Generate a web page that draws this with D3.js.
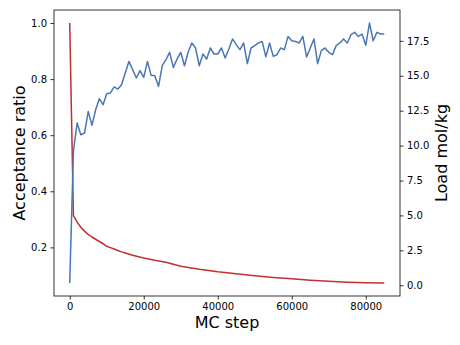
<!DOCTYPE html>
<html>
<head>
<meta charset="utf-8">
<script src="https://cdn.jsdelivr.net/npm/d3@7"></script>
<style>
  html, body { margin: 0; padding: 0; background: #fff; }
  svg { display: block; font-family: "DejaVu Sans", sans-serif; }
</style>
</head>
<body>
<svg id="chart" width="460" height="345"></svg>
<script>
// Load (mol/kg) sampled every 1000 MC steps
const loadSteps = d3.range(0, 86000, 1000);
const loadValues = [
  0.16, 9.6, 11.62, 10.78, 10.90, 12.45, 11.45, 12.57, 13.36, 12.93,
  13.72, 13.77, 14.20, 14.05, 14.36, 15.20, 16.03, 15.44, 14.84, 15.37,
  14.89, 16.03, 15.03, 15.01, 14.24, 15.72, 16.15, 16.68, 15.60, 16.20,
  16.68, 15.72, 16.68, 17.35, 16.99, 15.72, 16.56, 16.20, 16.99, 16.56,
  16.56, 16.99, 16.28, 16.92, 17.64, 17.23, 16.87, 17.35, 15.87, 16.99,
  17.16, 17.35, 17.46, 16.35, 17.35, 16.39, 16.51, 16.99, 16.87, 17.82,
  17.51, 17.46, 17.35, 17.82, 16.35, 16.99, 17.64, 15.87, 16.82, 16.99,
  16.68, 16.51, 17.16, 17.35, 17.64, 17.35, 17.94, 18.11, 17.82, 17.99,
  17.18, 18.78, 17.51, 18.11, 17.99, 17.99
];

// Acceptance ratio of the MC moves
const ratioSteps = [
  0, 1000, 2000, 3000, 4000, 5000, 6000, 7000, 8000, 9000, 10000,
  11000, 12000, 13000, 14000, 15000, 17000, 20000, 23000, 26000, 28000,
  30000, 35000, 40000, 45000, 50000, 55000, 60000, 65000, 70000, 75000,
  80000, 85000
];
const ratioValues = [
  1.0, 0.313, 0.290, 0.272, 0.258, 0.246, 0.237, 0.229, 0.221, 0.213, 0.204,
  0.199, 0.194, 0.189, 0.184, 0.180, 0.172, 0.162, 0.154, 0.147, 0.140,
  0.133, 0.122, 0.113, 0.106, 0.099, 0.093, 0.088, 0.083, 0.079, 0.076,
  0.074, 0.073
];

const xTicks = [0, 20000, 40000, 60000, 80000];
const leftTicks = [0.2, 0.4, 0.6, 0.8, 1.0];
const rightTicks = [0, 2.5, 5, 7.5, 10, 12.5, 15, 17.5];

const colRatio = "#c0302f";
const colLoad = "#4a76b6";

const box = { left: 54, right: 400, top: 10, bottom: 296 };
const svg = d3.select("#chart");

// extent padded by 5% on each side
function padded(values) {
  const [lo, hi] = d3.extent(values);
  const m = (hi - lo) * 0.05;
  return [lo - m, hi + m];
}

const x = d3.scaleLinear().domain(padded(loadSteps.concat(ratioSteps))).range([box.left, box.right]);
const yL = d3.scaleLinear().domain(padded(ratioValues)).range([box.bottom, box.top]);
const yR = d3.scaleLinear().domain(padded(loadValues)).range([box.bottom, box.top]);

const plot = svg.append("g");

plot.append("path")
  .datum(ratioSteps.map((s, i) => [s, ratioValues[i]]))
  .attr("fill", "none")
  .attr("stroke", colRatio)
  .attr("stroke-width", 1.5)
  .attr("stroke-linejoin", "round")
  .attr("d", d3.line().x(d => x(d[0])).y(d => yL(d[1])));

plot.append("path")
  .datum(loadSteps.map((s, i) => [s, loadValues[i]]))
  .attr("fill", "none")
  .attr("stroke", colLoad)
  .attr("stroke-width", 1.5)
  .attr("stroke-linejoin", "round")
  .attr("d", d3.line().x(d => x(d[0])).y(d => yR(d[1])));

// axes
function styleAxis(g) {
  g.selectAll("path.domain").remove();
  g.selectAll(".tick line").attr("stroke", "#000").attr("stroke-width", 0.8);
  g.selectAll(".tick text").attr("fill", "#000").style("font-size", "10px")
    .style("font-family", "'DejaVu Sans', sans-serif");
}

svg.append("g")
  .attr("transform", `translate(0,${box.bottom})`)
  .call(d3.axisBottom(x).tickValues(xTicks).tickFormat(d3.format("d")).tickSizeOuter(0).tickSize(3.5).tickPadding(3.5))
  .call(styleAxis);

svg.append("g")
  .attr("transform", `translate(${box.left},0)`)
  .call(d3.axisLeft(yL).tickValues(leftTicks).tickFormat(d3.format(".1f")).tickSizeOuter(0).tickSize(3.5).tickPadding(3.5))
  .call(styleAxis);

svg.append("g")
  .attr("transform", `translate(${box.right},0)`)
  .call(d3.axisRight(yR).tickValues(rightTicks).tickFormat(d3.format(".1f")).tickSizeOuter(0).tickSize(3.5).tickPadding(3.5))
  .call(styleAxis);

// frame
svg.append("rect")
  .attr("x", box.left).attr("y", box.top)
  .attr("width", box.right - box.left).attr("height", box.bottom - box.top)
  .attr("fill", "none").attr("stroke", "#000").attr("stroke-width", 0.8);

// axis titles
const midY = (box.top + box.bottom) / 2;
svg.append("text")
  .attr("x", (box.left + box.right) / 2).attr("y", 327.5)
  .attr("text-anchor", "middle").style("font-size", "16px")
  .text("MC step");

svg.append("text")
  .attr("transform", `translate(25,${midY}) rotate(-90)`)
  .attr("text-anchor", "middle").style("font-size", "16px")
  .text("Acceptance ratio");

svg.append("text")
  .attr("transform", `translate(447,${midY}) rotate(-90)`)
  .attr("text-anchor", "middle").style("font-size", "16px")
  .text("Load mol/kg");
</script>
</body>
</html>
